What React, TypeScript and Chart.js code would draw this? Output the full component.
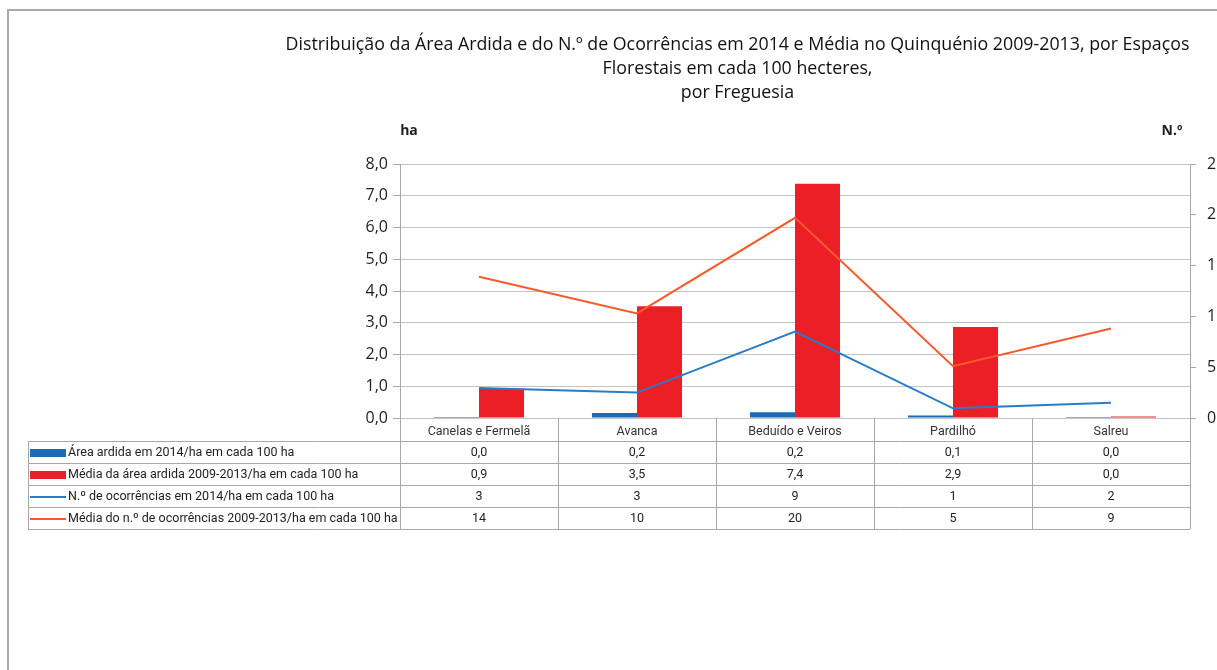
import React, { useEffect, useRef } from 'react';
import { Chart, registerables } from 'chart.js';

Chart.register(...registerables);

// ---- Data ----
const categories = ['Canelas e Fermelã', 'Avanca', 'Beduído e Veiros', 'Pardilhó', 'Salreu'];
const areaArdida2014 = [0.03, 0.16, 0.18, 0.08, 0.03];
const mediaAreaArdida = [0.92, 3.52, 7.38, 2.87, 0.045];
const ocorrencias2014 = [2.95, 2.5, 8.5, 0.95, 1.5];
const mediaOcorrencias = [13.9, 10.3, 19.7, 5.1, 8.8];
const seriesLabels = [
  'Área ardida em 2014/ha em cada 100 ha',
  'Média da área ardida 2009-2013/ha em cada 100 ha',
  'N.º de ocorrências em 2014/ha em cada 100 ha',
  'Média do n.º de ocorrências 2009-2013/ha em cada 100 ha',
];
const titleLines = [
  'Distribuição da Área Ardida e do N.º de Ocorrências em 2014 e Média no Quinquénio 2009-2013, por Espaços',
  'Florestais em cada 100 hecteres,',
  'por Freguesia',
];
const leftAxisUnit = 'ha';
const rightAxisUnit = 'N.º';

// ---- Styles ----
const FONT = '"Open Sans", sans-serif';
const TABLE_FONT = 'Roboto, sans-serif';
const BLUE_BAR = '#1b6bb6';
const RED_BAR = '#ec1f26';
const BLUE_LINE = '#2a7bc8';
const ORANGE_LINE = '#f65a2c';
const GRID = '#c4c4c4';
const AXIS = '#a8a8a8';
const TEXT = '#1e1e1e';

const fmt1 = (v: number) => v.toFixed(1).replace('.', ',');
const fmt0 = (v: number) => v.toFixed(0);

const tablePlugin = {
  id: 'dataTable',
  afterDraw(chart: any) {
    const { ctx, chartArea, scales } = chart;
    const x = scales.x;
    const n = categories.length;
    const step = x.getPixelForValue(1) - x.getPixelForValue(0);
    const first = x.getPixelForValue(0) - step / 2;
    const edges: number[] = [];
    for (let i = 0; i <= n; i++) edges.push(first + i * step);
    const top = chartArea.bottom;
    const headerH = 23;
    const rowH = 22;
    const tableLeft = 28;
    const rowsTop = top + headerH;
    const bottom = rowsTop + 4 * rowH;
    const px = (v: number) => Math.round(v) + 0.5;

    ctx.save();
    ctx.strokeStyle = AXIS;
    ctx.lineWidth = 1;
    ctx.beginPath();
    edges.forEach((e) => {
      ctx.moveTo(px(e), top);
      ctx.lineTo(px(e), bottom);
    });
    ctx.moveTo(px(tableLeft), rowsTop);
    ctx.lineTo(px(tableLeft), bottom);
    for (let r = 0; r <= 4; r++) {
      const y = px(rowsTop + r * rowH);
      ctx.moveTo(tableLeft, y);
      ctx.lineTo(edges[n], y);
    }
    ctx.stroke();

    const rows = [
      { label: seriesLabels[0], values: areaArdida2014.map(fmt1), kind: 'bar', color: BLUE_BAR },
      { label: seriesLabels[1], values: mediaAreaArdida.map(fmt1), kind: 'bar', color: RED_BAR },
      { label: seriesLabels[2], values: ocorrencias2014.map(fmt0), kind: 'line', color: BLUE_LINE },
      { label: seriesLabels[3], values: mediaOcorrencias.map(fmt0), kind: 'line', color: ORANGE_LINE },
    ];
    ctx.font = `12.5px ${TABLE_FONT}`;
    ctx.textBaseline = 'middle';
    rows.forEach((row, r) => {
      const cy = rowsTop + r * rowH + rowH / 2 + 0.5;
      if (row.kind === 'bar') {
        ctx.fillStyle = row.color;
        ctx.fillRect(30, Math.round(cy - 4), 36, 8);
      } else {
        ctx.strokeStyle = row.color;
        ctx.lineWidth = 2;
        ctx.beginPath();
        ctx.moveTo(30, Math.round(cy));
        ctx.lineTo(66, Math.round(cy));
        ctx.stroke();
      }
      ctx.fillStyle = TEXT;
      ctx.textAlign = 'left';
      ctx.fillText(row.label, 68, cy);
      ctx.textAlign = 'center';
      row.values.forEach((v, i) => {
        ctx.fillText(v, x.getPixelForValue(i), cy);
      });
    });

    ctx.font = `bold 14px ${FONT}`;
    ctx.fillStyle = TEXT;
    ctx.textAlign = 'center';
    ctx.textBaseline = 'middle';
    ctx.fillText(leftAxisUnit, chartArea.left + 9, 131);
    ctx.fillText(rightAxisUnit, chartArea.right - 18, 131);
    ctx.restore();
  },
};

export default function App() {
  const canvasRef = useRef<HTMLCanvasElement | null>(null);

  useEffect(() => {
    if (!canvasRef.current) return;
    const chart = new Chart(canvasRef.current, {
      type: 'bar',
      data: {
        labels: categories,
        datasets: [
          {
            type: 'bar',
            label: seriesLabels[0],
            data: areaArdida2014,
            backgroundColor: BLUE_BAR,
            yAxisID: 'y',
            order: 2,
            categoryPercentage: 0.57,
            barPercentage: 1,
          },
          {
            type: 'bar',
            label: seriesLabels[1],
            data: mediaAreaArdida,
            backgroundColor: RED_BAR,
            yAxisID: 'y',
            order: 2,
            categoryPercentage: 0.57,
            barPercentage: 1,
          },
          {
            type: 'line',
            label: seriesLabels[2],
            data: ocorrencias2014,
            borderColor: BLUE_LINE,
            backgroundColor: BLUE_LINE,
            borderWidth: 2,
            pointRadius: 0,
            tension: 0,
            yAxisID: 'y1',
            order: 0,
          },
          {
            type: 'line',
            label: seriesLabels[3],
            data: mediaOcorrencias,
            borderColor: ORANGE_LINE,
            backgroundColor: ORANGE_LINE,
            borderWidth: 2,
            pointRadius: 0,
            tension: 0,
            yAxisID: 'y1',
            order: 0,
          },
        ] as any,
      },
      options: {
        animation: false,
        responsive: true,
        maintainAspectRatio: false,
        layout: { padding: { left: 258, right: 0, top: 0, bottom: 141 } },
        plugins: {
          legend: { display: false },
          tooltip: { enabled: false },
          title: {
            display: true,
            text: titleLines,
            color: '#111',
            font: { family: FONT, size: 17.8, weight: 'normal', lineHeight: 24 / 17.8 },
            padding: { top: 33, bottom: 59 },
          },
        },
        scales: {
          x: {
            grid: { display: false },
            border: { display: false },
            ticks: {
              color: '#333',
              font: { family: TABLE_FONT, size: 12.5 },
              padding: -2,
              autoSkip: false,
              maxRotation: 0,
            },
            afterFit: (s: any) => {
              s.height = 111;
            },
          },
          y: {
            position: 'left',
            min: 0,
            max: 8,
            ticks: {
              stepSize: 1,
              color: TEXT,
              font: { family: FONT, size: 16 },
              padding: 5,
              callback: (v: any) => fmt1(Number(v)),
            },
            grid: { color: GRID, tickLength: 7, tickColor: AXIS },
            border: { display: true, color: AXIS },
            afterFit: (s: any) => {
              s.width = 142;
            },
          },
          y1: {
            position: 'right',
            min: 0,
            max: 25,
            ticks: {
              stepSize: 5,
              color: TEXT,
              font: { family: FONT, size: 16 },
              padding: 11,
            },
            grid: { drawOnChartArea: false, tickLength: 6, tickColor: AXIS },
            border: { display: true, color: AXIS },
            afterFit: (s: any) => {
              s.width = 27;
            },
          },
        },
      } as any,
      plugins: [tablePlugin],
    });
    return () => chart.destroy();
  }, []);

  return (
    <div style={{ position: 'fixed', left: 0, top: 0, width: 1217, height: 670, background: '#fff' }}>
      <div
        style={{
          position: 'absolute',
          left: 7,
          top: 9,
          width: 1300,
          height: 800,
          borderTop: '2px solid #a9a9a9',
          borderLeft: '2px solid #a9a9a9',
          boxSizing: 'border-box',
        }}
      />
      <div style={{ position: 'absolute', left: 0, top: 0, width: 1217, height: 670 }}>
        <canvas ref={canvasRef} />
      </div>
    </div>
  );
}
